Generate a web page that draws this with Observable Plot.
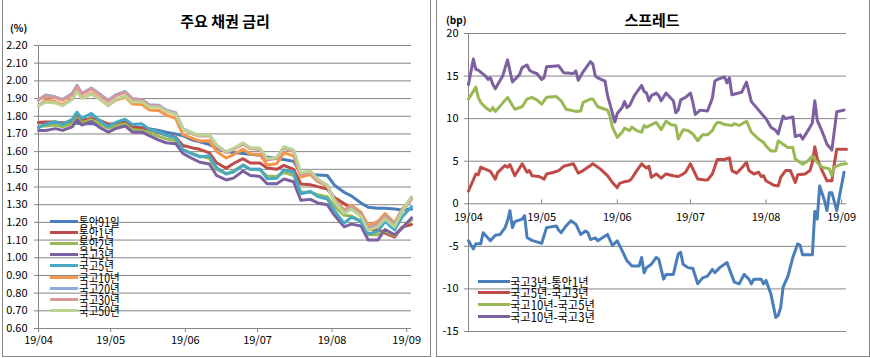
<!DOCTYPE html>
<html><head><meta charset="utf-8">
<script src="https://cdn.jsdelivr.net/npm/d3@7"></script>
<script src="https://cdn.jsdelivr.net/npm/@observablehq/plot@0.6"></script>
<style>
body{margin:0;background:#fff;font-family:"Noto Sans CJK KR","Noto Sans",sans-serif;}
#wrap{position:relative;width:870px;height:358px;overflow:hidden;background:#fff;}
.panel{position:absolute;top:-1px;border:1px solid #868686;pointer-events:none;}
.title{position:absolute;font-size:15px;font-weight:bold;color:#000;transform:translateX(-50%);white-space:nowrap;line-height:18px;}
.unit{position:absolute;font-size:10px;font-weight:bold;line-height:12px;color:#000;}
.lt{position:absolute;font-size:12.5px;line-height:11px;height:11px;white-space:nowrap;color:#000;transform-origin:left center;}
.sw{position:absolute;height:3px;}
svg{position:absolute;top:0;}
</style></head>
<body><div id="wrap"></div>
<script>
// ---------- Left chart: 주요 채권 금리 (%) ----------
const yieldDates = ["4/1","4/4","4/8","4/11","4/15","4/17","4/19","4/23","4/26","4/30","5/3","5/7","5/10","5/14","5/17","5/21","5/24","5/28","5/31","6/4","6/7","6/11","6/14","6/18","6/21","6/25","6/28","7/2","7/5","7/9","7/12","7/16","7/19","7/23","7/26","7/30","8/2","8/6","8/9","8/13","8/16","8/20","8/23","8/27","8/30","9/3"];
const yieldNames = ["통안91일","통안1년","통안2년","국고3년","국고5년","국고10년","국고20년","국고30년","국고50년"];
const msb91d = [1.765,1.765,1.765,1.762,1.76,1.76,1.758,1.757,1.755,1.75,1.745,1.745,1.74,1.735,1.73,1.72,1.71,1.70,1.69,1.665,1.655,1.64,1.62,1.60,1.595,1.59,1.585,1.58,1.57,1.56,1.555,1.545,1.475,1.47,1.468,1.465,1.41,1.37,1.35,1.31,1.285,1.28,1.28,1.275,1.27,1.275];
const msb1y = [1.764,1.767,1.768,1.76,1.774,1.80,1.778,1.788,1.78,1.756,1.758,1.771,1.739,1.732,1.725,1.707,1.693,1.681,1.635,1.621,1.613,1.593,1.537,1.506,1.533,1.56,1.536,1.536,1.508,1.50,1.522,1.499,1.417,1.413,1.402,1.389,1.34,1.306,1.282,1.235,1.16,1.16,1.139,1.117,1.173,1.188];
const msb2y = [1.745,1.745,1.75,1.74,1.758,1.79,1.763,1.78,1.76,1.733,1.745,1.757,1.725,1.72,1.707,1.686,1.672,1.663,1.61,1.59,1.575,1.562,1.50,1.475,1.49,1.525,1.50,1.497,1.462,1.46,1.483,1.465,1.37,1.372,1.356,1.345,1.29,1.24,1.236,1.207,1.13,1.13,1.15,1.125,1.17,1.215];
const ktb3y = [1.72,1.72,1.73,1.72,1.74,1.78,1.75,1.77,1.74,1.71,1.73,1.745,1.71,1.71,1.69,1.665,1.65,1.645,1.59,1.56,1.54,1.53,1.465,1.44,1.45,1.49,1.465,1.46,1.418,1.418,1.445,1.43,1.325,1.33,1.31,1.30,1.24,1.175,1.19,1.18,1.10,1.10,1.16,1.13,1.165,1.225];
const ktb5y = [1.735,1.755,1.77,1.753,1.782,1.823,1.788,1.817,1.779,1.742,1.765,1.783,1.754,1.757,1.727,1.71,1.693,1.678,1.612,1.586,1.57,1.577,1.509,1.473,1.485,1.522,1.50,1.502,1.447,1.449,1.497,1.483,1.362,1.375,1.346,1.332,1.265,1.196,1.229,1.205,1.135,1.149,1.205,1.157,1.229,1.289];
const ktb10y = [1.858,1.892,1.883,1.866,1.90,1.948,1.903,1.931,1.903,1.861,1.89,1.909,1.869,1.866,1.836,1.833,1.807,1.788,1.696,1.675,1.66,1.661,1.601,1.564,1.582,1.614,1.587,1.584,1.525,1.532,1.593,1.576,1.456,1.47,1.43,1.406,1.33,1.27,1.297,1.258,1.182,1.205,1.25,1.198,1.273,1.336];
const ktb20y = [1.89,1.92,1.91,1.895,1.93,1.975,1.93,1.96,1.93,1.89,1.92,1.94,1.90,1.895,1.865,1.862,1.835,1.82,1.73,1.705,1.69,1.695,1.635,1.597,1.615,1.645,1.62,1.615,1.555,1.565,1.625,1.605,1.475,1.485,1.44,1.41,1.325,1.26,1.285,1.245,1.165,1.19,1.235,1.19,1.265,1.335];
const ktb30y = [1.895,1.915,1.905,1.89,1.925,1.97,1.925,1.955,1.925,1.885,1.915,1.935,1.895,1.89,1.86,1.858,1.83,1.815,1.727,1.70,1.688,1.69,1.632,1.595,1.612,1.642,1.617,1.612,1.552,1.562,1.62,1.60,1.47,1.48,1.435,1.405,1.32,1.255,1.28,1.24,1.16,1.185,1.23,1.185,1.26,1.33];
const ktb50y = [1.86,1.88,1.875,1.86,1.895,1.94,1.90,1.925,1.90,1.86,1.895,1.915,1.88,1.88,1.852,1.852,1.827,1.812,1.727,1.705,1.692,1.695,1.637,1.60,1.618,1.65,1.622,1.62,1.56,1.567,1.628,1.61,1.48,1.49,1.445,1.41,1.32,1.25,1.275,1.235,1.155,1.175,1.22,1.175,1.26,1.345];
const yieldTicks = [0.6,0.7,0.8,0.9,1.0,1.1,1.2,1.3,1.4,1.5,1.6,1.7,1.8,1.9,2.0,2.1,2.2];

// ---------- Right chart: 스프레드 (bp) ----------
const spreadNames = ["국고3년-통안1년","국고5년-국고3년","국고10년-국고5년","국고10년-국고3년"];
const s31Dates = ["4/1","4/3","4/4","4/6","4/7","4/10","4/12","4/14","4/16","4/17","4/18","4/19","4/20","4/23","4/24","4/25","4/27","5/1","5/3","5/7","5/8","5/9","5/11","5/13","5/15","5/17","5/19","5/20","5/21","5/23","5/24","5/28","5/30","6/1","6/3","6/5","6/7","6/10","6/11","6/12","6/13","6/15","6/17","6/18","6/20","6/21","6/24","6/26","6/27","6/28","6/30","7/2","7/4","7/6","7/8","7/10","7/11","7/13","7/16","7/17","7/19","7/21","7/23","7/25","7/26","7/27","7/30","7/31","8/1","8/3","8/5","8/6","8/7","8/8","8/10","8/12","8/14","8/15","8/16","8/20","8/21","8/22","8/23","8/25","8/26","8/27","8/28","8/30","9/2"];
const s31 = [-4.35,-5.3,-4.7,-4.7,-3.4,-4.35,-3.7,-3.6,-2.8,-2.0,-0.8,-2.8,-2.1,-1.8,-1.4,-3.95,-4.3,-4.65,-2.8,-2.6,-3.1,-3.4,-2.6,-2.0,-2.4,-3.6,-3.2,-3.4,-4.2,-4.0,-4.35,-3.6,-4.9,-4.35,-5.5,-6.7,-7.3,-7.3,-6.3,-8.1,-7.5,-7.1,-6.3,-6.5,-8.85,-8.3,-8.3,-5.9,-5.7,-7.1,-7.5,-7.6,-9.4,-8.7,-8.5,-7.7,-8.1,-7.5,-6.9,-7.7,-9.2,-9.4,-8.3,-8.85,-9.4,-8.85,-8.85,-9.4,-9.0,-10.6,-13.35,-13.1,-12.2,-9.8,-8.5,-6.3,-4.7,-4.9,-6.0,-6.0,-0.9,-1.8,2.1,0.35,-0.8,1.3,1.3,-0.8,3.7];
const s53Dates = ["4/1","4/4","4/5","4/6","4/10","4/12","4/13","4/16","4/17","4/18","4/20","4/23","4/25","4/26","4/27","4/30","5/2","5/3","5/6","5/8","5/10","5/14","5/16","5/18","5/21","5/22","5/25","5/28","5/30","6/1","6/2","6/4","6/6","6/7","6/9","6/11","6/13","6/14","6/15","6/17","6/19","6/21","6/24","6/26","6/28","6/29","7/1","7/4","7/7","7/8","7/10","7/12","7/15","7/17","7/18","7/20","7/22","7/24","7/25","7/27","7/29","7/30","7/31","8/1","8/4","8/6","8/7","8/9","8/11","8/13","8/14","8/17","8/19","8/20","8/21","8/22","8/24","8/26","8/28","8/29","8/30","9/3"];
const s53 = [1.5,3.5,3.4,4.3,3.8,2.9,3.7,4.5,4.3,4.6,3.3,4.7,3.7,3.9,3.3,3.2,2.9,3.5,3.7,3.9,4.4,4.7,3.6,3.9,4.5,4.7,4.1,3.3,2.5,1.9,2.4,2.6,2.7,3.0,3.9,4.7,4.2,4.4,3.1,3.5,3.0,3.5,3.3,3.2,3.5,3.7,4.7,2.9,2.8,2.8,3.5,5.2,5.2,5.4,3.9,3.6,4.2,4.85,3.9,3.5,3.7,3.2,3.3,2.7,2.2,2.1,3.1,3.9,3.9,2.5,3.4,3.5,3.9,4.85,6.7,5.3,3.9,2.7,2.7,4.7,6.4,6.4];
const s105Dates = ["4/1","4/4","4/5","4/6","4/8","4/10","4/11","4/12","4/14","4/17","4/20","4/23","4/25","4/27","4/29","5/1","5/3","5/7","5/9","5/11","5/15","5/17","5/18","5/21","5/22","5/24","5/27","5/28","5/29","5/30","6/1","6/3","6/4","6/6","6/7","6/9","6/11","6/12","6/13","6/15","6/17","6/19","6/20","6/21","6/23","6/25","6/26","6/28","6/30","7/2","7/4","7/6","7/8","7/10","7/11","7/12","7/13","7/15","7/18","7/19","7/21","7/24","7/26","7/29","7/31","8/1","8/3","8/5","8/6","8/8","8/10","8/12","8/13","8/16","8/18","8/20","8/22","8/24","8/27","8/28","8/29","9/1","9/3"];
const s105 = [12.3,13.7,12.5,11.9,11.3,10.9,11.3,10.85,11.5,12.5,11.1,11.4,12.3,12.5,12.2,11.7,12.5,12.6,12.1,11.1,10.85,10.9,11.9,12.3,12.3,11.4,11.1,11.0,10.3,9.0,7.8,8.4,8.9,8.6,9.0,8.6,8.4,9.2,9.0,9.3,9.55,8.7,9.2,9.7,9.3,9.2,7.6,8.7,8.6,8.2,7.4,8.1,8.1,8.6,9.2,9.55,9.55,9.3,9.2,9.4,9.2,9.7,8.4,7.6,7.2,6.8,6.2,6.2,7.4,7.0,6.6,6.6,5.25,4.65,5.0,5.6,4.85,4.3,4.1,3.3,4.3,4.65,4.7];
const s103Dates = ["4/1","4/3","4/4","4/5","4/8","4/9","4/10","4/11","4/12","4/15","4/17","4/19","4/22","4/23","4/25","4/26","4/27","4/29","5/1","5/2","5/3","5/8","5/10","5/14","5/15","5/16","5/18","5/21","5/22","5/23","5/24","5/27","5/28","5/29","5/31","6/1","6/3","6/4","6/5","6/6","6/8","6/9","6/11","6/12","6/13","6/14","6/15","6/17","6/18","6/19","6/21","6/23","6/24","6/25","6/26","6/27","6/29","7/1","7/2","7/3","7/5","7/8","7/10","7/11","7/12","7/15","7/16","7/17","7/18","7/22","7/24","7/26","7/29","7/31","8/1","8/3","8/5","8/6","8/7","8/8","8/9","8/12","8/13","8/15","8/16","8/18","8/20","8/21","8/22","8/24","8/26","8/28","8/30","9/2"];
const s103 = [14.0,17.0,15.8,15.7,15.0,14.6,14.8,14.0,13.5,15.0,16.9,14.3,15.2,16.0,16.3,15.7,15.5,15.3,14.6,14.8,16.1,16.2,15.4,15.3,15.6,14.5,15.5,16.7,16.4,15.0,14.8,14.4,12.7,11.7,9.6,10.6,11.3,12.0,11.3,11.5,12.7,13.1,13.9,13.2,13.0,12.1,12.7,13.0,12.7,12.1,13.0,12.4,12.1,10.7,11.0,12.2,12.5,13.0,11.9,10.5,11.0,10.9,12.4,14.4,14.6,14.9,14.2,14.8,12.8,13.1,14.3,12.0,11.0,10.3,10.0,9.0,8.6,8.2,9.3,10.3,10.0,10.2,7.9,8.1,7.6,8.5,9.5,12.1,9.8,8.5,7.0,6.3,10.8,11.0];
const spreadTicks = [-15,-10,-5,0,5,10,15,20];
const monthStarts = ["4/1","5/1","6/1","7/1","8/1","9/1"];

// ---------- styles ----------
const yieldColors = ["#4A7EBB","#BE4B48","#98B954","#7D60A0","#46AAC5","#F79646","#8EA9DB","#D99795","#BCD396"];
const spreadColors = ["#4A7EBB","#BE4B48","#98B954","#7D60A0"];
const GRID = "#868686";
const FONT = "'Noto Sans CJK KR','Noto Sans',sans-serif";

const parseMD = s => { const [m, d] = s.split("/").map(Number); return new Date(Date.UTC(2019, m - 1, d)); };
const xDomain = [parseMD("4/1"), parseMD("9/3")];
const months = monthStarts.map(parseMD);
const fmtMonth = d3.utcFormat("%y/%m");

const yieldSeries = [msb91d, msb1y, msb2y, ktb3y, ktb5y, ktb10y, ktb20y, ktb30y, ktb50y];
const yieldRows = yieldNames.flatMap((name, i) =>
  yieldSeries[i].slice(0, yieldDates.length).map((v, j) => ({date: parseMD(yieldDates[j]), value: v, name})));

const spreadSeries = [[s31Dates, s31], [s53Dates, s53], [s105Dates, s105], [s103Dates, s103]];
const spreadRows = spreadNames.flatMap((name, i) => {
  const [ds, vs] = spreadSeries[i];
  const n = Math.min(ds.length, vs.length);
  return vs.slice(0, n).map((v, j) => ({date: parseMD(ds[j]), value: v, name}));
});

const wrap = document.getElementById("wrap");

const left = Plot.plot({
  width: 432, height: 358,
  marginLeft: 38, marginRight: 21, marginTop: 45, marginBottom: 30,
  style: {fontFamily: FONT, fontSize: "11px", color: "#000", background: "transparent"},
  x: {type: "utc", domain: xDomain, label: null},
  y: {domain: [0.6, 2.2], label: null},
  color: {domain: yieldNames, range: yieldColors},
  marks: [
    Plot.gridY(yieldTicks, {stroke: GRID, strokeOpacity: 1}),
    Plot.ruleX([xDomain[0]], {stroke: GRID}),
    Plot.ruleY([0.6], {stroke: GRID}),
    Plot.axisY(yieldTicks, {tickFormat: d3.format(".2f"), tickSize: 4, tickPadding: 7, stroke: GRID, label: null}),
    Plot.axisX(months, {tickFormat: fmtMonth, tickSize: 4, tickPadding: 4, stroke: GRID, label: null}),
    Plot.line(yieldRows, {x: "date", y: "value", z: "name", stroke: "name", strokeWidth: 3, strokeLinejoin: "round", strokeLinecap: "round"})
  ]
});
left.style.left = "0px";
wrap.appendChild(left);

const right = Plot.plot({
  width: 435, height: 358,
  marginLeft: 33, marginRight: 24, marginTop: 33, marginBottom: 27,
  style: {fontFamily: FONT, fontSize: "11px", color: "#000", background: "transparent"},
  x: {type: "utc", domain: xDomain, axis: null},
  y: {domain: [-15, 20], label: null},
  color: {domain: spreadNames, range: spreadColors},
  marks: [
    Plot.gridY(spreadTicks, {stroke: GRID, strokeOpacity: 1}),
    Plot.ruleX([xDomain[0]], {stroke: GRID}),
    Plot.axisY(spreadTicks, {tickFormat: d => String(d), tickSize: 4, tickPadding: 6, stroke: GRID, label: null}),
    Plot.ruleX(months, {x: d => d, y1: 0, y2: 0.45, stroke: GRID}),
    Plot.text(months, {x: d => d, y: 0, text: d => fmtMonth(d), dy: 14, fontSize: 11}),
    Plot.line(spreadRows, {x: "date", y: "value", z: "name", stroke: "name", strokeWidth: 3, strokeLinejoin: "round", strokeLinecap: "round"})
  ]
});
right.style.left = "435px";
wrap.appendChild(right);

// ---------- text, legends, panel frames ----------
function addDiv(cls, css, text) {
  const d = document.createElement("div");
  d.className = cls;
  Object.assign(d.style, css);
  if (text != null) d.textContent = text;
  wrap.appendChild(d);
  return d;
}
addDiv("title", {left: "225px", top: "12px"}, "주요 채권 금리");
addDiv("title", {left: "652px", top: "11px"}, "스프레드");
addDiv("unit", {left: "10px", top: "22px"}, "(%)");
addDiv("unit", {left: "446px", top: "14px"}, "(bp)");

function legend(names, colors, x0, x1, tx, cy0, step, sx) {
  names.forEach((n, i) => {
    const cy = cy0 + i * step;
    addDiv("lt", {left: tx + "px", top: (cy - 5.5) + "px", transform: "scaleX(" + sx + ")"}, n);
  });
  names.forEach((n, i) => {
    const cy = cy0 + i * step;
    addDiv("sw", {left: x0 + "px", top: (cy - 1.5) + "px", width: (x1 - x0) + "px", background: colors[i]});
  });
}
legend(yieldNames, yieldColors, 50, 78, 79, 221.5, 11.1, 0.84);
legend(spreadNames, spreadColors, 478, 510, 510, 281, 11.7, 0.9);

addDiv("panel", {left: "2px", width: "427px", height: "356px"});
addDiv("panel", {left: "436px", width: "432px", height: "356px"});
</script>
</body></html>
